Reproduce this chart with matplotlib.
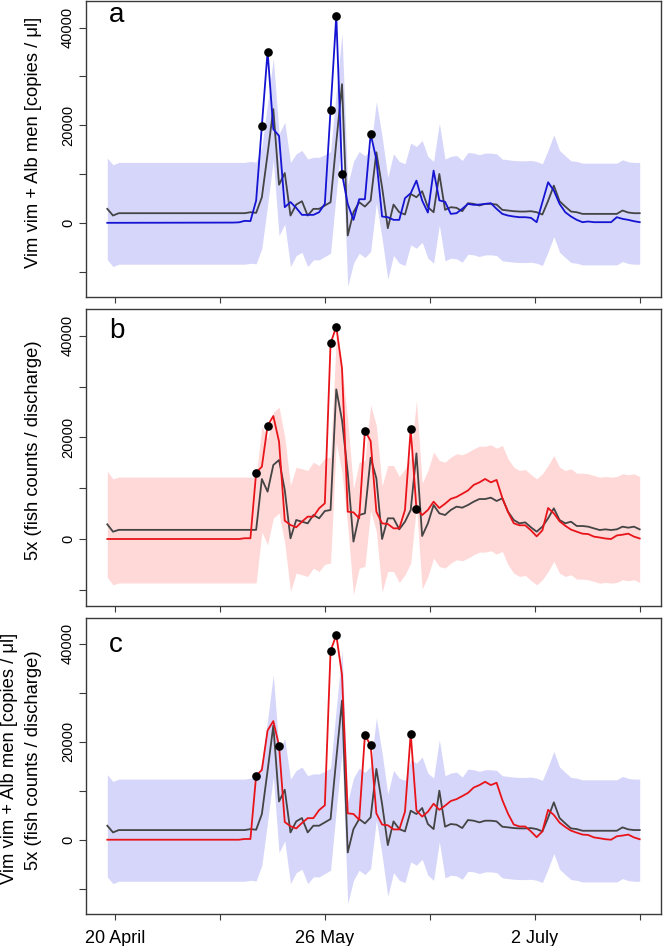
import matplotlib
matplotlib.use('Agg')
import matplotlib.pyplot as plt

plt.rcParams['font.family'] = ['Liberation Sans', 'DejaVu Sans']

# sample index (daily samples; flat start collapsed)
SAMPLE = [0, 1, 2] + list(range(22, 94))

# panel a: eDNA (blue) and model (grey) with band
BLUE = [0, 0, 0,
        50, 100, 400, 350, 4560, 19900, 35100, 19200, 17800, 3200,
        4250, 3060, 1630, 1630, 1630, 2170, 3880, 23170, 42400, 10010,
        3880, 610, 4830, 4830, 18200, 13000, 1290, 1150, 610, 610,
        5040, 6060, 8650, 4560, 2100, 10700, 4600, 4300, 1830, 1970,
        2860, 3880, 3680, 3740, 3880, 4020, 2860, 1830, 1490, 1290,
        1150, 1150, 1020, 130, 4220, 8310, 6610, 3880, 2170, 1290,
        610, 130, 270, 130, 130, 130, 130, 1150, 810, 610,
        330, 130]
GREY_A = [2860, 1490, 1970,
          1970, 1970, 1970, 2170, 2040, 5240, 14100, 23300, 7800, 10200,
          1490, 3740, 4420, 1490, 2860, 2860, 3540, 4220, 16500, 28400,
          -2600, 2170, 4220, 3330, 4560, 14450, 7290, -1100, 3740, 2170,
          1700, 5920, 5240, 6470, 3200, 2170, 10010, 2660, 3200, 3070,
          2380, 4020, 3880, 3540, 3880, 3880, 3740, 2660, 2520, 2380,
          2310, 2310, 2380, 2170, 1700, 4500, 7630, 4430, 3330, 2310,
          2170, 1830, 1830, 1830, 1830, 1830, 1830, 1830, 2520, 2110,
          1970, 1970]
BAND_A_HI = [13260, 11890, 12370,
             12370, 12370, 12370, 12570, 12440, 15640, 24500, 33700, 18200, 20600,
             12350, 14140, 14820, 13080, 13430, 13430, 13940, 14620, 26900, 38800,
             7800, 12570, 14620, 13730, 14960, 24850, 17690, 9300, 14140, 12570,
             12100, 16320, 15640, 16870, 13600, 12570, 20410, 13060, 13600, 13800,
             12780, 14420, 14280, 13940, 14280, 14280, 14140, 13060, 12920, 12780,
             12710, 12710, 12780, 12570, 12100, 14900, 18030, 14830, 13730, 12710,
             12570, 12230, 12230, 12230, 12230, 12230, 12230, 12230, 12920, 12510,
             12370, 12370]
BAND_A_LO = [-7590, -8960, -8480,
             -8480, -8480, -8480, -8280, -8410, -5210, 3650, 12850, -2650, -250,
             -8960, -6710, -6030, -8960, -7590, -7590, -6910, -6230, 6050, 17950,
             -13050, -8280, -6230, -7120, -5890, 4000, -3160, -11550, -6710, -8280,
             -8750, -4530, -5210, -3980, -7250, -8280, -440, -7790, -7250, -7380,
             -8070, -6430, -6570, -6910, -6570, -6570, -6710, -7790, -7930, -8070,
             -8140, -8140, -8070, -8280, -8750, -5950, -2820, -6020, -7120, -8140,
             -8280, -8620, -8620, -8620, -8620, -8620, -8620, -8620, -7930, -8340,
             -8480, -8480]

# panel b: fish counts (red) and model (grey) with band
RED = [0, 0, 0,
       0, 0, 150, 150, 13060, 14240, 22310, 24210, 19160, 3610,
       2760, 2300, 3410, 4400, 4400, 6040, 7020, 38520, 41800, 33600,
       5380, 5250, 4070, 21330, 19290, 5380, 3080, 2950, 2100, 2100,
       5710, 21650, 5970, 4720, 5710, 7350, 6100, 6950, 7900, 8280,
       8900, 9550, 10650, 11150, 11820, 11150, 11630, 8100, 5300, 3100,
       2700, 2700, 1700, 520, 1700, 6100, 5050, 3500, 2600, 1850,
       1440, 1050, 970, 470, 300, 100, 0, 700, 850, 1050,
       470, 100]
GREY_B = [2890, 1440, 1800,
          1800, 1800, 1800, 1800, 1800, 11810, 9320, 14570, 15550, 9650,
          130, 3740, 3410, 3080, 4720, 4070, 5510, 5710, 29460, 23400,
          13000, -520, 4720, 5050, 16010, 11940, 0, 4070, 4070, 1900,
          3410, 5710, 16860, 590, 3080, 6690, 5050, 4720, 5710, 6370,
          6170, 6690, 7350, 7870, 7870, 8140, 7480, 8010, 5380, 3740,
          3080, 3280, 2300, 1440, 2430, 4070, 6040, 3740, 3080, 3410,
          2560, 2560, 2430, 2100, 1770, 1900, 1770, 1900, 2430, 2230,
          2430, 1900]
BAND_B_HI = [13290, 11840, 12200,
             12200, 12200, 12200, 12200, 12200, 22210, 19720, 24970, 25950, 20050,
             10530, 14140, 13810, 13480, 15120, 14470, 15910, 16110, 39860, 33800,
             23400, 9880, 15120, 15450, 26410, 22340, 10400, 14470, 14470, 12300,
             13810, 16110, 27260, 10990, 13480, 17090, 15450, 15120, 16110, 16770,
             16570, 17090, 17750, 18270, 18270, 18540, 17880, 18410, 15780, 14140,
             13480, 13680, 12700, 11840, 12830, 14470, 16440, 14140, 13480, 13810,
             12960, 12960, 12830, 12500, 12170, 12300, 12170, 12300, 12830, 12630,
             12830, 12300]
BAND_B_LO = [-7560, -9010, -8650,
             -8650, -8650, -8650, -8650, -8650, 1360, -1130, 4120, 5100, -800,
             -10320, -6710, -7040, -7370, -5730, -6380, -4940, -4740, 19010, 12950,
             2550, -10970, -5730, -5400, 5560, 1490, -10450, -6380, -6380, -8550,
             -7040, -4740, 6410, -9860, -7370, -3760, -5400, -5730, -4740, -4080,
             -4280, -3760, -3100, -2580, -2580, -2310, -2970, -2440, -5070, -6710,
             -7370, -7170, -8150, -9010, -8020, -6380, -4410, -6710, -7370, -7040,
             -7890, -7890, -8020, -8350, -8680, -8550, -8680, -8550, -8020, -8220,
             -8020, -8550]

# highlighted samples (black dots)
DOTS_A = [27, 28, 39, 40, 41, 46]
DOTS_B = [26, 28, 39, 40, 45, 53, 54]
DOTS_C = [26, 30, 39, 40, 45, 46, 53]

X_TICK_LABELS = ['20 April', '', '26 May', '', '2 July', '']
Y_TICKS = [-10000, 0, 10000, 20000, 30000, 40000]
Y_TICK_LABELS = ['', '0', '', '20000', '', '40000']
PANEL_LETTERS = ['a', 'b', 'c']

# ---- layout ----
W, H = 663, 946
TICK_POS = [1.35, 19.69, 38.03, 56.37, 74.71, 93.05]
BLUE_C = '#1414d2'
RED_C = '#e8141a'
GREY_C = '#444444'
LAV = '#d6d6fa'
PINK = '#ffd8d8'

fig = plt.figure(figsize=(W / 100, H / 100), dpi=100)


def make_ax(top, bottom, ylim):
    ax = fig.add_axes([86 / W, 1 - bottom / H, 575 / W, (bottom - top) / H])
    ax.set_xlim(-3.72, 96.72)
    ax.set_ylim(*ylim)
    for s in ax.spines.values():
        s.set_color('#3a3a3a')
        s.set_linewidth(1.0)
    ax.set_xticks(TICK_POS)
    ax.set_xticklabels([''] * len(TICK_POS))
    ax.set_yticks(Y_TICKS)
    ax.set_yticklabels(Y_TICK_LABELS, rotation=90, va='center')
    ax.tick_params(axis='x', length=4.2, width=0.8, color='#3a3a3a', pad=7)
    ax.tick_params(axis='y', length=5.4, width=0.8, color='#3a3a3a', pad=2.5,
                   labelsize=10.5)
    return ax


def dots(ax, idx, series):
    xs = [s for s in idx]
    ys = [series[SAMPLE.index(s)] for s in idx]
    ax.plot(xs, ys, 'o', color='black', markersize=5.2, zorder=5)


axA = make_ax(1, 297, (-15200, 45450))
axB = make_ax(309, 605.7, (-13130, 45280))
axC = make_ax(618, 914, (-15160, 45250))

# panel a
axA.fill_between(SAMPLE, BAND_A_LO, BAND_A_HI, color=LAV, lw=0, zorder=1)
axA.plot(SAMPLE, GREY_A, color=GREY_C, lw=1.3, zorder=3)
axA.plot(SAMPLE, BLUE, color=BLUE_C, lw=1.3, zorder=4)
dots(axA, DOTS_A, BLUE)

# panel b
axB.fill_between(SAMPLE, BAND_B_LO, BAND_B_HI, color=PINK, lw=0, zorder=1)
axB.plot(SAMPLE, GREY_B, color=GREY_C, lw=1.3, zorder=3)
axB.plot(SAMPLE, RED, color=RED_C, lw=1.3, zorder=4)
dots(axB, DOTS_B, RED)

# panel c
axC.fill_between(SAMPLE, BAND_A_LO, BAND_A_HI, color=LAV, lw=0, zorder=1)
axC.plot(SAMPLE, GREY_A, color=GREY_C, lw=1.3, zorder=3)
axC.plot(SAMPLE, RED, color=RED_C, lw=1.3, zorder=4)
dots(axC, DOTS_C, RED)
axC.set_xticklabels(X_TICK_LABELS, fontsize=13)

# panel letters
for ax, letter, base_px, top_px, bot_px in [(axA, 'a', 21.7, 1, 297),
                                            (axB, 'b', 338.3, 309, 605.7),
                                            (axC, 'c', 651.7, 618, 914)]:
    frac = 1 - (base_px - top_px) / (bot_px - top_px)
    ax.text((109 - 86) / 575, frac, letter, transform=ax.transAxes,
            fontsize=20, va='baseline', ha='left')

# y labels
YL1 = 'Vim vim + Alb men [copies / \u03bcl]'
YL2 = '5x (fish counts / discharge)'
fig.text(34 / W, 1 - 142 / H, YL1, rotation=90, ha='center', va='center', fontsize=13.2)
fig.text(34 / W, 1 - 450 / H, YL2, rotation=90, ha='center', va='center', fontsize=13.2)
fig.text(10 / W, 1 - 758 / H, YL1, rotation=90, ha='center', va='center', fontsize=13.2)
fig.text(34 / W, 1 - 760 / H, YL2, rotation=90, ha='center', va='center', fontsize=13.2)

fig.savefig('out.png', dpi=100)
